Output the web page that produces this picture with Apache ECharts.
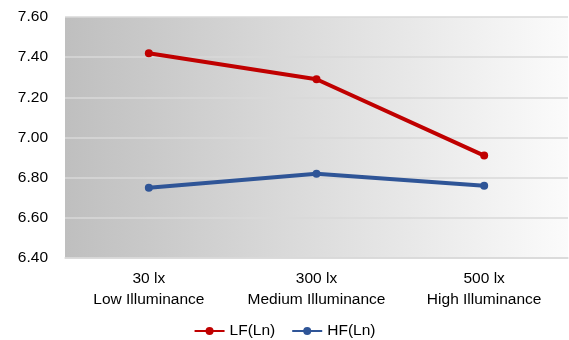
<!DOCTYPE html>
<html>
<head>
<meta charset="utf-8">
<script src="https://cdn.jsdelivr.net/npm/echarts@6/dist/echarts.min.js"></script>
<style>html,body{margin:0;padding:0;background:#fff;}#c{width:569px;height:340px;}</style>
</head>
<body>
<div id="c"></div>
<script>
var categories = ['30 lx\nLow Illuminance', '300 lx\nMedium Illuminance', '500 lx\nHigh Illuminance'];
var lfValues = [7.42, 7.29, 6.91];
var hfValues = [6.75, 6.82, 6.76];
var seriesNames = ['LF(Ln)', 'HF(Ln)'];

var chart = echarts.init(document.getElementById('c'), null, {renderer: 'canvas'});
var font = 'Arial, "Liberation Sans", sans-serif';
chart.setOption({
  animation: false,
  grid: {
    left: 65, right: 1, top: 17, bottom: 82,
    show: true, borderWidth: 0,
    backgroundColor: new echarts.graphic.LinearGradient(0, 0, 1, 0, [
      {offset: 0, color: '#bfbfbf'},
      {offset: 1, color: '#fbfbfb'}
    ])
  },
  legend: {
    top: 318, left: 'center',
    itemWidth: 30, itemHeight: 10, itemGap: 16,
    textStyle: {fontFamily: font, fontSize: 15.5, color: '#000'},
    data: seriesNames
  },
  xAxis: {
    type: 'category',
    data: categories,
    axisLine: {show: true, lineStyle: {color: '#d9d9d9', width: 1.5}},
    axisTick: {show: false},
    axisLabel: {interval: 0, fontFamily: font, fontSize: 15.5, color: '#000', margin: 10, lineHeight: 21}
  },
  yAxis: {
    type: 'value', min: 6.4, max: 7.6, interval: 0.2,
    axisLine: {show: false}, axisTick: {show: false},
    splitLine: {lineStyle: {color: '#d9d9d9', width: 1.5}},
    axisLabel: {fontFamily: font, fontSize: 15.5, color: '#000', margin: 17,
      formatter: function (v) { return v.toFixed(2); }}
  },
  series: [
    {name: seriesNames[0], type: 'line', data: lfValues, symbol: 'circle', symbolSize: 8,
     lineStyle: {color: '#c00000', width: 4}, itemStyle: {color: '#c00000'}},
    {name: seriesNames[1], type: 'line', data: hfValues, symbol: 'circle', symbolSize: 8,
     lineStyle: {color: '#2f5597', width: 4}, itemStyle: {color: '#2f5597'}}
  ]
});
</script>
</body>
</html>
